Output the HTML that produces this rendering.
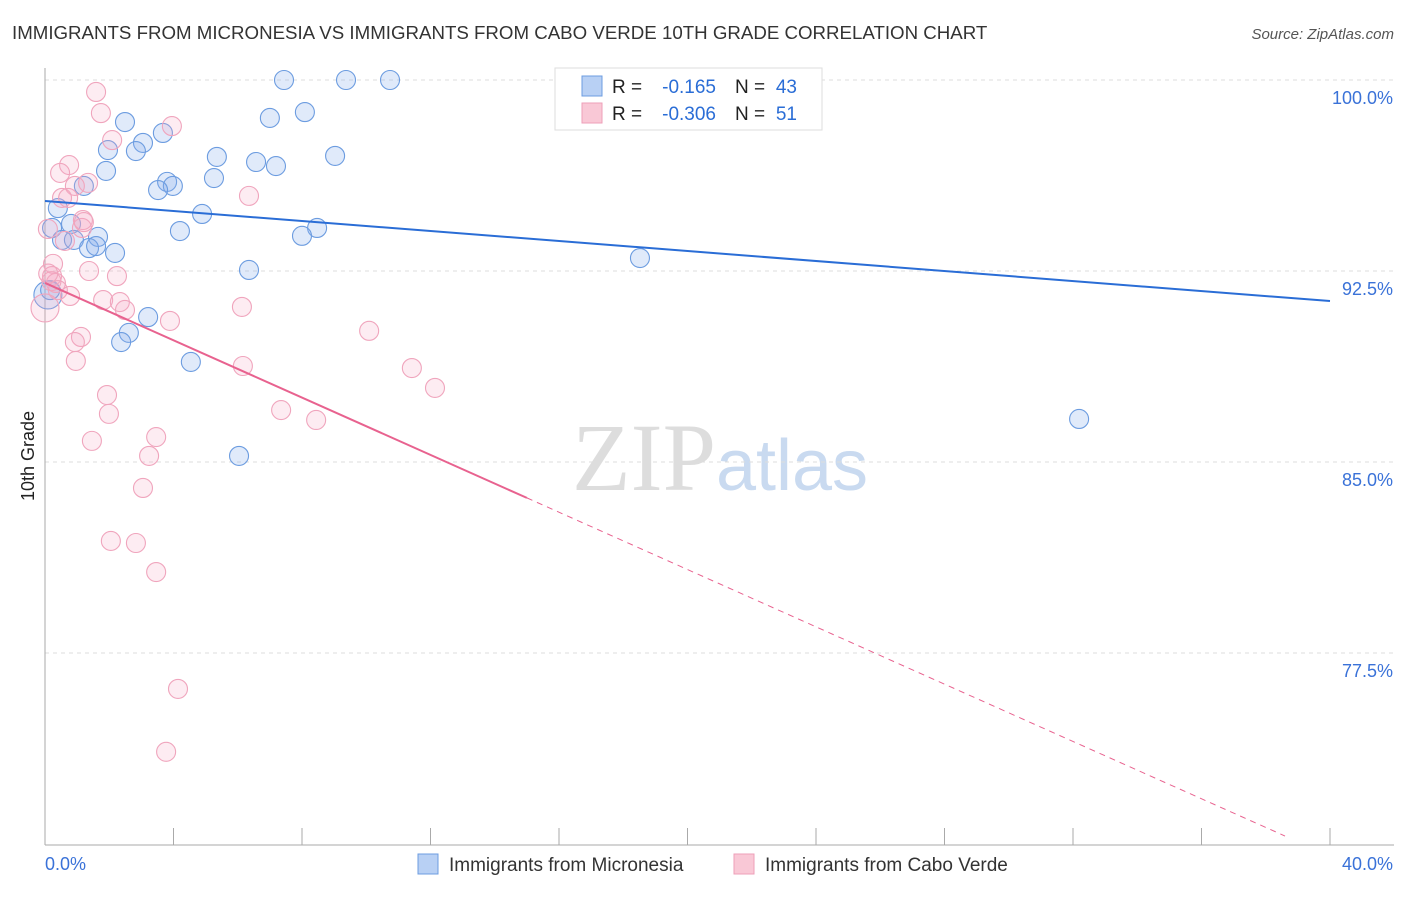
<!DOCTYPE html>
<html><head><meta charset="utf-8"><style>
body{margin:0;background:#fff;font-family:"Liberation Sans",sans-serif}
svg text{font-family:"Liberation Sans",sans-serif}
</style></head><body>
<svg id="chart" width="1406" height="892" viewBox="0 0 1406 892" xmlns="http://www.w3.org/2000/svg">
<text x="12" y="39" font-size="18.7" fill="#333">IMMIGRANTS FROM MICRONESIA VS IMMIGRANTS FROM CABO VERDE 10TH GRADE CORRELATION CHART</text>
<text x="1394" y="39" font-size="15" fill="#555" text-anchor="end" font-style="italic">Source: ZipAtlas.com</text>
<text x="720" y="490" font-size="96" text-anchor="middle"><tspan fill="#ddd" font-family="Liberation Serif">ZIP</tspan><tspan fill="#c9daf0" font-size="72">atlas</tspan></text>
<g id="grid"></g>
<g id="axes"></g>
<g id="points"></g>
<g id="lines"></g>
<text transform="translate(34,456) rotate(-90)" font-size="18" fill="#222" text-anchor="middle">10th Grade</text>
<g>
<rect x="555" y="68" width="267" height="62" fill="#fff" stroke="#ddd"/>
<rect x="582" y="76" width="20" height="20" fill="#b8d0f4" stroke="#6c9ce0"/>
<rect x="582" y="103" width="20" height="20" fill="#f9c8d6" stroke="#ee9fb8"/>
<text x="612" y="93" font-size="19" fill="#222">R =</text>
<text x="716" y="93" font-size="19" fill="#2a6dd6" text-anchor="end">-0.165</text>
<text x="735" y="93" font-size="19" fill="#222">N =</text>
<text x="797" y="93" font-size="19" fill="#2a6dd6" text-anchor="end">43</text>
<text x="612" y="120" font-size="19" fill="#222">R =</text>
<text x="716" y="120" font-size="19" fill="#2a6dd6" text-anchor="end">-0.306</text>
<text x="735" y="120" font-size="19" fill="#222">N =</text>
<text x="797" y="120" font-size="19" fill="#2a6dd6" text-anchor="end">51</text>
</g>
<g>
<rect x="418" y="854" width="20" height="20" fill="#b8d0f4" stroke="#6c9ce0"/>
<text x="449" y="871" font-size="19" fill="#333">Immigrants from Micronesia</text>
<rect x="734" y="854" width="20" height="20" fill="#f9c8d6" stroke="#ee9fb8"/>
<text x="765" y="871" font-size="19" fill="#333">Immigrants from Cabo Verde</text>
</g>
</svg>
<script>
const yTicks=[100,92.5,85,77.5];
const yTickLabels=["100.0%","92.5%","85.0%","77.5%"];
const xTickLabels=["0.0%","40.0%"];
const blueX=[7.44,9.37,10.74,2.49,8.09,7.00,3.67,3.05,1.96,2.83,9.03,5.35,6.57,7.19,1.90,5.26,3.80,3.98,3.52,1.21,0.40,4.89,0.81,0.22,4.20,8.47,8.00,0.53,0.90,1.65,1.37,1.59,2.18,18.52,6.35,3.21,2.61,2.37,4.54,32.19,6.04,0.09,0.16];
const blueY=[100,100,100,98.35,98.74,98.51,97.92,97.53,97.25,97.21,97.02,96.98,96.78,96.62,96.43,96.15,96.00,95.84,95.68,95.84,94.97,94.74,94.35,94.19,94.07,94.19,93.88,93.72,93.72,93.84,93.40,93.48,93.21,93.01,92.54,90.69,90.07,89.71,88.93,86.69,85.24,91.56,91.75];
const pinkX=[1.59,1.74,3.95,2.09,0.75,0.47,1.34,0.93,0.53,0.72,1.18,1.15,0.09,6.35,0.62,1.37,2.24,0.25,0.22,0.34,0.40,0.78,1.81,2.33,2.49,6.13,3.89,1.12,0.93,10.09,0.96,6.16,11.42,12.14,1.93,1.99,7.35,8.44,1.46,3.46,3.24,3.05,2.05,2.83,3.46,4.14,3.77,0.0,1.21,0.2,0.1];
const pinkY=[99.53,98.70,98.19,97.64,96.66,96.35,95.96,95.84,95.37,95.37,94.50,94.19,94.15,95.45,93.68,92.50,92.30,92.78,92.30,92.03,91.75,91.52,91.36,91.28,90.97,91.09,90.54,89.91,89.71,90.15,88.97,88.77,88.69,87.91,87.63,86.89,87.04,86.65,85.83,85.98,85.24,83.98,81.90,81.82,80.68,76.09,73.62,91.05,94.42,92.1,92.4];
const blueTrend=[95.25,91.32];
const pinkTrend=[92.03,-0.5626];
const NS="http://www.w3.org/2000/svg";
const sx=v=>45+v*32.125, sy=v=>80+(100-v)*25.467;
function mk(tag,attrs,parent){const e=document.createElementNS(NS,tag);for(const k in attrs)e.setAttribute(k,attrs[k]);document.getElementById(parent).appendChild(e);return e;}
yTicks.forEach((t,i)=>{
 const l=mk('line',{x1:45,x2:1394,y1:sy(t),y2:sy(t),stroke:'#ddd','stroke-dasharray':'4,4'},'grid');
 
 
 const tx=mk('text',{x:1393,y:sy(t)+24,'font-size':18,fill:'#3a72d8','text-anchor':'end'},'axes');
 tx.textContent=yTickLabels[i];
 
 
});
const ax=mk('line',{x1:45,x2:45,y1:68,y2:845,stroke:'#aaa'},'axes');


const bx=mk('line',{x1:45,x2:1394,y1:845,y2:845,stroke:'#aaa'},'axes');


for(let i=0;i<=10;i++){const t=mk('line',{x1:sx(i*4),x2:sx(i*4),y1:828,y2:845,stroke:'#aaa'},'axes');
 
 }
[[0,'start',45],[40,'end',1393]].forEach((p,i)=>{const t=mk('text',{x:p[2],y:870,'font-size':18,fill:'#3a72d8','text-anchor':p[1]},'axes');
 t.textContent=xTickLabels[i];
 
 });
blueX.forEach((x,i)=>{const c=mk('circle',{cx:sx(x),cy:sy(blueY[i]),r:i==41?14:9.5,fill:'rgba(130,170,235,0.25)',stroke:'#6c9ce0','stroke-width':1.1},'points');
 
 });
pinkX.forEach((x,i)=>{const c=mk('circle',{cx:sx(x),cy:sy(pinkY[i]),r:i==47?14:9.5,fill:'rgba(245,170,195,0.22)',stroke:'#f0a5bd','stroke-width':1.1},'points');
 
 });
const bl=mk('line',{x1:sx(0),y1:sy(blueTrend[0]),x2:sx(40),y2:sy(blueTrend[1]),stroke:'#2a6dd6','stroke-width':2},'lines');


const pf=x=>pinkTrend[0]+pinkTrend[1]*x;
const pl=mk('line',{x1:sx(0),y1:sy(pf(0)),x2:sx(15),y2:sy(pf(15)),stroke:'#e8628f','stroke-width':2},'lines');


const pd=mk('line',{x1:sx(15),y1:sy(pf(15)),x2:sx(38.6),y2:sy(pf(38.6)),stroke:'#e8628f','stroke-width':1,'stroke-dasharray':'6,5'},'lines');


</script>
</body></html>
